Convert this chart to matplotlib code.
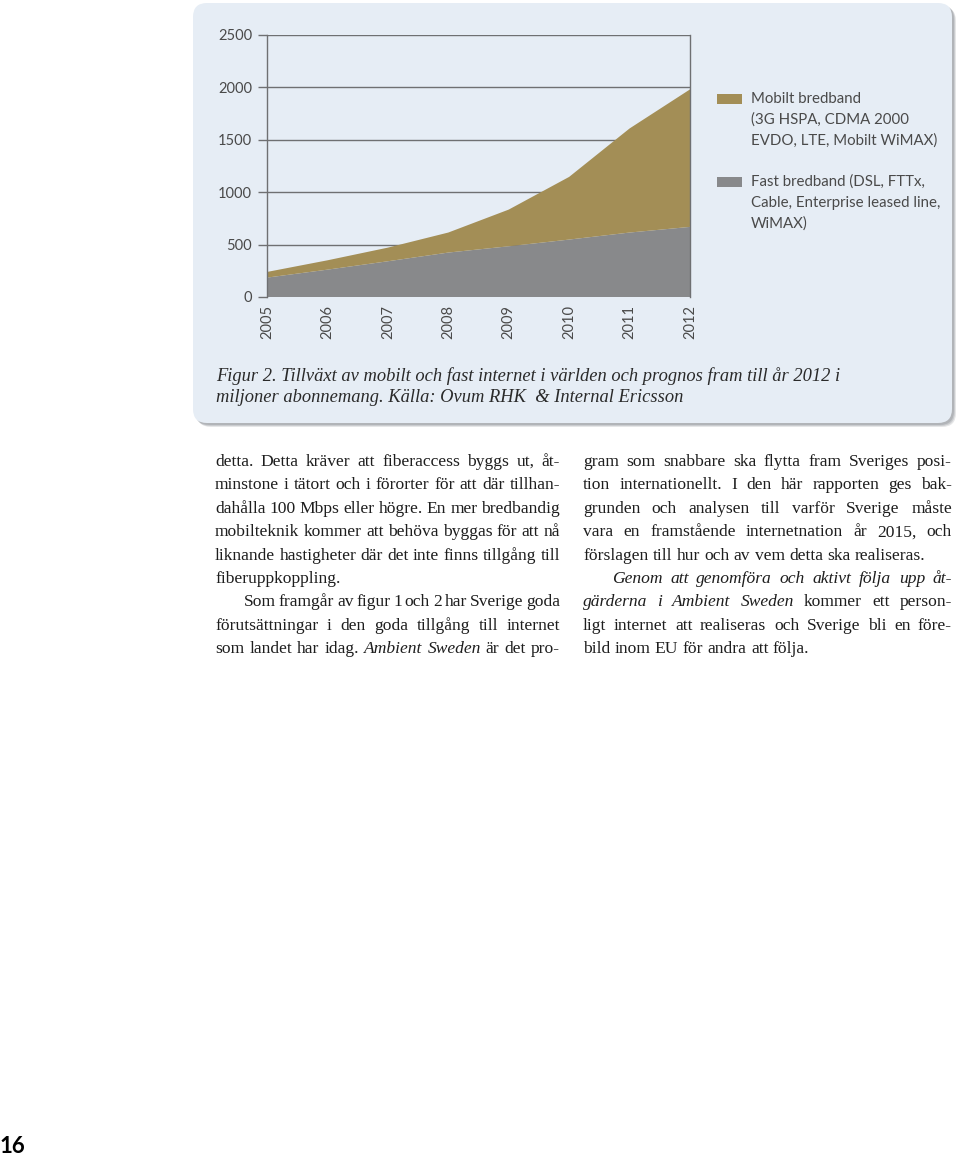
import matplotlib
matplotlib.use("Agg")
import matplotlib.pyplot as plt
from matplotlib.patches import FancyBboxPatch, Rectangle

# Chart data (miljoner abonnemang)
years = [2005, 2006, 2007, 2008, 2009, 2010, 2011, 2012]
fast = [185, 261, 341, 424, 484, 548, 615, 669]
mobile = [54, 89, 130, 191, 350, 598, 993, 1312]
y_ticks = [0, 500, 1000, 1500, 2000, 2500]

legend_mobile = ["Mobilt bredband", "(3G HSPA, CDMA 2000", "EVDO, LTE, Mobilt WiMAX)"]
legend_fast = ["Fast bredband (DSL, FTTx,", "Cable, Enterprise leased line,", "WiMAX)"]

caption = ["Figur 2. Tillväxt av mobilt och fast internet i världen och prognos fram till år 2012 i",
           "miljoner abonnemang. Källa: Ovum RHK  & Internal Ericsson"]

# Body text, _..._ marks italic words
left_lines = [
    "detta. Detta kräver att fiberaccess byggs ut, åt-",
    "minstone i tätort och i förorter för att där tillhan-",
    "dahålla 100 Mbps eller högre. En mer bredbandig",
    "mobilteknik kommer att behöva byggas för att nå",
    "liknande hastigheter där det inte finns tillgång till",
    "fiberuppkoppling.",
    "Som framgår av figur 1 och 2 har Sverige goda",
    "förutsättningar i den goda tillgång till internet",
    "som landet har idag. _Ambient Sweden_ är det pro-",
]
left_last = {5}
left_indent = {6}

right_lines = [
    "gram som snabbare ska flytta fram Sveriges posi-",
    "tion internationellt. I den här rapporten ges bak-",
    "grunden och analysen till varför Sverige måste",
    "vara en framstående internetnation år 2015, och",
    "förslagen till hur och av vem detta ska realiseras.",
    "_Genom att genomföra och aktivt följa upp åt-_",
    "_gärderna i Ambient Sweden_ kommer ett person-",
    "ligt internet att realiseras och Sverige bli en före-",
    "bild inom EU för andra att följa.",
]
right_last = {4, 8}
right_indent = {5}

GOLD = "#a38e56"
GREY = "#88898b"
PANEL = "#e6edf5"
LINE = "#6f7072"
LABEL = "#4a4a4a"
SANS = "Lato"
SERIF = "Liberation Serif"
PX = 0.72  # points per pixel at dpi 100

W, H = 960, 1156
fig = plt.figure(figsize=(W / 100, H / 100), dpi=100)
fig.patch.set_facecolor("white")

# background axes in pixel units for the panel and all page text
bg = fig.add_axes([0, 0, 1, 1])
bg.set_xlim(0, W)
bg.set_ylim(H, 0)
bg.axis("off")

# panel with a soft shadow
for off, alpha in [(4, 0.25), (3, 0.35), (2, 0.5)]:
    bg.add_patch(FancyBboxPatch((193 + off, 3 + off), 759, 420,
                                boxstyle="round,pad=0,rounding_size=14",
                                fc="#9a9ea3", ec="none", alpha=alpha))
bg.add_patch(FancyBboxPatch((193, 3), 759, 420, boxstyle="round,pad=0,rounding_size=14",
                            fc=PANEL, ec="none"))

# stacked area chart
ax = fig.add_axes([267 / W, 1 - 297 / H, 423 / W, 262 / H])
ax.patch.set_alpha(0)
ax.stackplot(years, fast, mobile, colors=[GREY, GOLD], lw=0)
ax.set_xlim(years[0], years[-1])
ax.set_ylim(0, 2500)
ax.set_yticks(y_ticks)
ax.set_xticks(years)
ax.set_xticklabels([str(y) for y in years], rotation=90, va="top")
ax.set_axisbelow(True)
ax.yaxis.grid(True, color=LINE, lw=1)
for s in ["top", "bottom"]:
    ax.spines[s].set_visible(False)
for s in ["left", "right"]:
    ax.spines[s].set_color(LINE)
    ax.spines[s].set_linewidth(1)
    ax.spines[s].set_zorder(3)
ax.tick_params(axis="y", length=9 * PX, width=1, color=LINE, pad=6 * PX,
               labelsize=10.5, labelcolor=LABEL)
ax.tick_params(axis="x", length=0, pad=8 * PX, labelsize=10.5, labelcolor=LABEL)
for lab in ax.get_xticklabels() + ax.get_yticklabels():
    lab.set_fontfamily(SANS)

# legend
for y0, color, lines in [(94, GOLD, legend_mobile), (177, GREY, legend_fast)]:
    bg.add_patch(Rectangle((717, y0), 25, 10, fc=color, ec="none"))
    for i, txt in enumerate(lines):
        bg.text(751, y0 + 5 + i * 20.7, txt, fontfamily=SANS,
                fontsize=10.8, color=LABEL, va="center", ha="left")

# caption
for i, txt in enumerate(caption):
    bg.text(216, 381 + i * 21, txt, fontfamily=SERIF, style="italic",
            fontsize=13.3, color="#2a2a2a", va="baseline", ha="left")

# justified body text
renderer = fig.canvas.get_renderer()


def words_of(line):
    out = []
    italic = False
    for w in line.split(" "):
        if w.startswith("_"):
            italic = True
        out.append((w.strip("_"), italic))
        if w.endswith("_"):
            italic = False
    return out


def draw_column(lines, last, indent, x0, width, y0, dy, size):
    for i, line in enumerate(lines):
        y = y0 + i * dy
        x = x0 + (29 if i in indent else 0)
        w_avail = x0 + width - x
        texts = []
        for word, ital in words_of(line):
            t = bg.text(0, y, word, fontfamily=SERIF, style="italic" if ital else "normal",
                        fontsize=size, color="#1e1e1e", va="baseline", ha="left")
            texts.append(t)
        widths = [t.get_window_extent(renderer).width for t in texts]
        if i in last:
            space = size / PX * 0.25
        else:
            space = (w_avail - sum(widths)) / max(len(texts) - 1, 1)
        for t, wd in zip(texts, widths):
            t.set_x(x)
            x += wd + space


draw_column(left_lines, left_last, left_indent, 215, 345, 466, 23.4, 12.6)
draw_column(right_lines, right_last, right_indent, 583, 369, 466, 23.4, 12.6)

# page number
bg.text(0, 1153, "16", fontfamily=SANS, fontweight="bold", fontsize=16,
        color="black", va="baseline", ha="left")

fig.savefig("out.png", dpi=100)
